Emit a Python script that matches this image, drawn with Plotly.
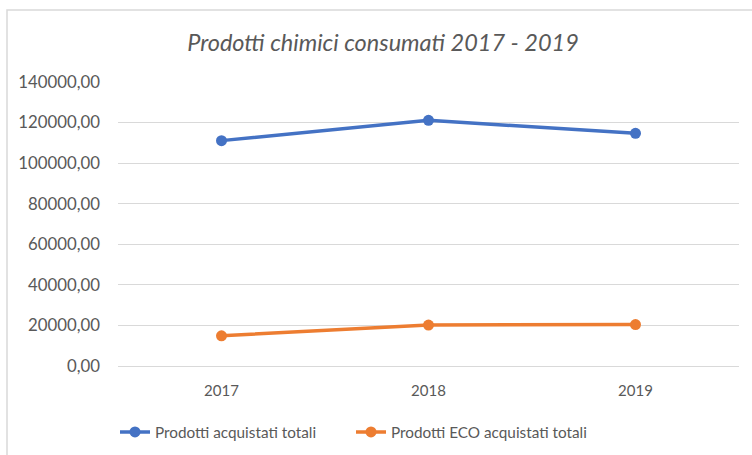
import plotly.graph_objects as go

years = ["2017", "2018", "2019"]
totali = [111100, 121100, 114700]
eco = [14900, 20200, 20400]
series_names = ["Prodotti acquistati totali", "Prodotti ECO acquistati totali"]
title_text = "Prodotti chimici consumati 2017 - 2019"

FONT = "Lato"
GREY = "#595959"

fig = go.Figure()
fig.add_trace(go.Scatter(x=years, y=totali, name=series_names[0], mode="lines+markers", legend="legend",
                         line=dict(color="#4472C4", width=3.5), marker=dict(size=11, color="#4472C4")))
fig.add_trace(go.Scatter(x=years, y=eco, name=series_names[1], mode="lines+markers", legend="legend2",
                         line=dict(color="#ED7D31", width=3.5), marker=dict(size=11, color="#ED7D31")))

W, H = 752, 455
l, r, t, b = 118, 13, 82, 89
pw, ph = W - l - r, H - t - b

leg_common = dict(orientation="h", xref="container", yref="container", xanchor="left",
                  y=1 - 432 / H, yanchor="middle", font=dict(size=15.3, color=GREY),
                  bgcolor="rgba(0,0,0,0)")

fig.update_layout(
    width=W, height=H,
    margin=dict(l=l, r=r, t=t, b=b, autoexpand=False),
    paper_bgcolor="white", plot_bgcolor="white",
    separators=",.",
    font=dict(family=FONT, color=GREY, size=15),
    title=dict(text="<i>" + title_text + "</i>", x=383 / W, xanchor="center",
               y=1 - 43 / H, yanchor="middle", font=dict(size=23.5, color=GREY, family=FONT)),
    showlegend=True,
    legend=dict(x=115 / W, **leg_common),
    legend2=dict(x=351 / W, **leg_common),
    xaxis=dict(type="category", range=[-0.5, 2.5], showgrid=False, showline=False, zeroline=False,
               automargin=False, ticks="", ticklabelstandoff=14, tickfont=dict(size=15, color=GREY)),
    yaxis=dict(range=[0, 140000], dtick=20000, tickformat=".2f", showgrid=True, gridcolor="#d9d9d9",
               gridwidth=1, zeroline=True, zerolinecolor="#d9d9d9", zerolinewidth=1, showline=False,
               automargin=False, ticks="", ticklabelstandoff=17, tickfont=dict(size=16.8, color=GREY)),
    shapes=[dict(type="rect", xref="paper", yref="paper",
                 x0=(7 - l) / pw, x1=1.5, y0=-1.0, y1=1 + (t - 10) / ph,
                 line=dict(color="#d9d9d9", width=1.5), fillcolor="rgba(0,0,0,0)", layer="below")],
)

fig.write_html("out.html", config={"displayModeBar": False},
               post_script="document.body.style.margin='0';")
